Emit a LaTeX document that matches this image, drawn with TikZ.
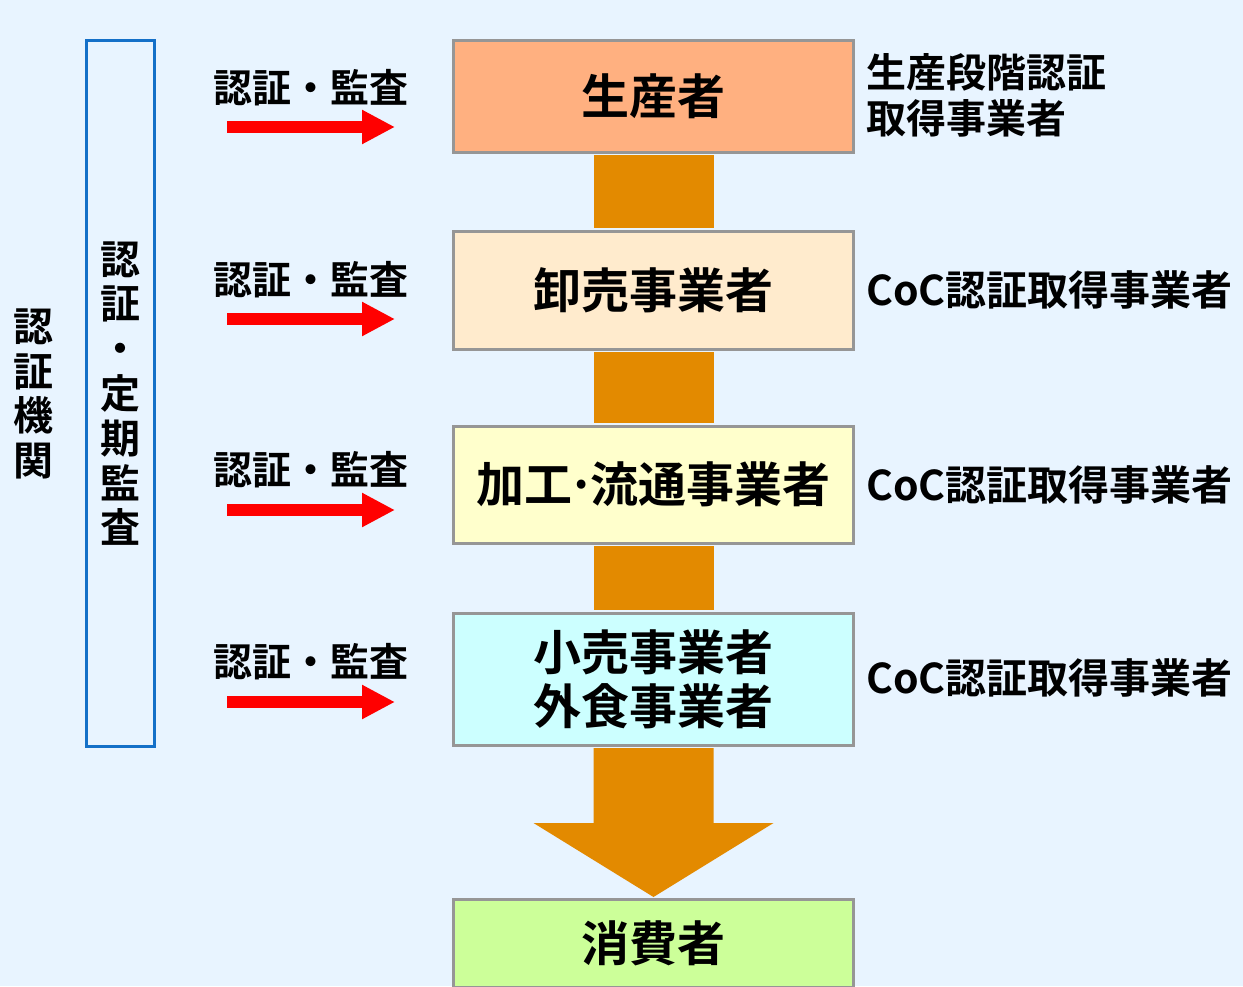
\documentclass[tikz,border=0pt]{standalone}
\usepackage{fontspec}
\setmainfont{Noto Sans CJK JP}[BoldFont={Noto Sans CJK JP Bold}]
\usetikzlibrary{arrows.meta}
\definecolor{bgc}{RGB}{232,244,255}
\definecolor{boxline}{RGB}{150,150,150}
\definecolor{c1}{RGB}{255,176,128}
\definecolor{c2}{RGB}{255,235,205}
\definecolor{c3}{RGB}{255,255,204}
\definecolor{c4}{RGB}{204,255,255}
\definecolor{c5}{RGB}{204,255,153}
\definecolor{flowc}{RGB}{227,138,0}
\definecolor{bluec}{RGB}{20,112,200}
\definecolor{redc}{RGB}{255,0,0}
\tikzset{
  stagebox/.style={draw=boxline, line width=1.5pt, minimum width=200pt, inner sep=0pt,
    font=\bfseries\fontsize{24}{27}\selectfont, align=center},
  flow/.style={fill=flowc},
  redarrow/.style={draw=redc, line width=6pt, -{Triangle[length=16.5pt,width=16pt]}, shorten <=0pt},
  audit/.style={font=\bfseries\fontsize{19.5}{22}\selectfont, inner sep=0pt},
  sidetext/.style={font=\bfseries\fontsize{20.5}{23}\selectfont, inner sep=0pt, align=left, anchor=west},
  vtext/.style={font=\bfseries\fontsize{20}{22.4}\selectfont, inner sep=0pt, align=center},
}
\begin{document}
\begin{tikzpicture}[x=0.5pt,y=-0.5pt]
\useasboundingbox (0,0) rectangle (1243,986);
\clip (0,0) rectangle (1243,986);
\fill[bgc] (0,0) rectangle (1243,986);

% stage boxes
\node[stagebox, fill=c1, minimum height=56pt] (box1) at (653.5,96) {生産者};
\node[stagebox, fill=c2, minimum height=59pt] (box2) at (653.5,290) {卸売事業者};
\node[stagebox, fill=c3, minimum height=58.5pt] (box3) at (653.5,484.5) {加工\kern-2.5pt·\kern-2.5pt流通事業者};
\node[stagebox, fill=c4, minimum height=66pt] (box4) at (653.5,679) {小売事業者\\外食事業者};
\node[stagebox, fill=c5, minimum height=44pt] (box5) at (653.5,943) {消費者};

% orange flow
\fill[flow] ([xshift=-30pt,yshift=-0.75pt]box1.south) rectangle ([xshift=30pt,yshift=0.75pt]box2.north);
\fill[flow] ([xshift=-30pt,yshift=-0.75pt]box2.south) rectangle ([xshift=30pt,yshift=0.75pt]box3.north);
\fill[flow] ([xshift=-30pt,yshift=-0.75pt]box3.south) rectangle ([xshift=30pt,yshift=0.75pt]box4.north);
\coordinate (tip) at (653.5,897);
\fill[flow] ([xshift=-30pt,yshift=-0.75pt]box4.south) -- ([xshift=30pt,yshift=-0.75pt]box4.south)
  -- (713.5,823) -- (773.5,823) -- (tip) -- (533.5,823) -- (593.5,823) -- cycle;

% left vertical labels
\node[vtext] (org) at (33,394) {認\\証\\機\\関};
\node[draw=bluec, line width=1.5pt, minimum width=34pt, minimum height=353pt, inner sep=0pt] (auditbox) at (120,393) {};
\node[vtext] (audittext) at (120,393.5) {認\\証\\・\\定\\期\\監\\査};

% audit arrows
\foreach \i/\ly/\ay in {1/88/127, 2/280/319, 3/470/510, 4/662/702}{
  \node[audit] (lab\i) at (311,\ly) {認証・監査};
  \coordinate (as\i) at (227,\ay);
  \coordinate (ae\i) at (395,\ay);
  \draw[redarrow] (as\i) -- (ae\i);
}

% right side texts
\node[sidetext, font=\bfseries\fontsize{20}{23}\selectfont] (r1) at (866,95) {生産段階認証\\取得事業者};
\node[sidetext] (r2) at (866,290) {CoC認証取得事業者};
\node[sidetext] (r3) at (866,485) {CoC認証取得事業者};
\node[sidetext] (r4) at (866,678) {CoC認証取得事業者};
\end{tikzpicture}
\end{document}
